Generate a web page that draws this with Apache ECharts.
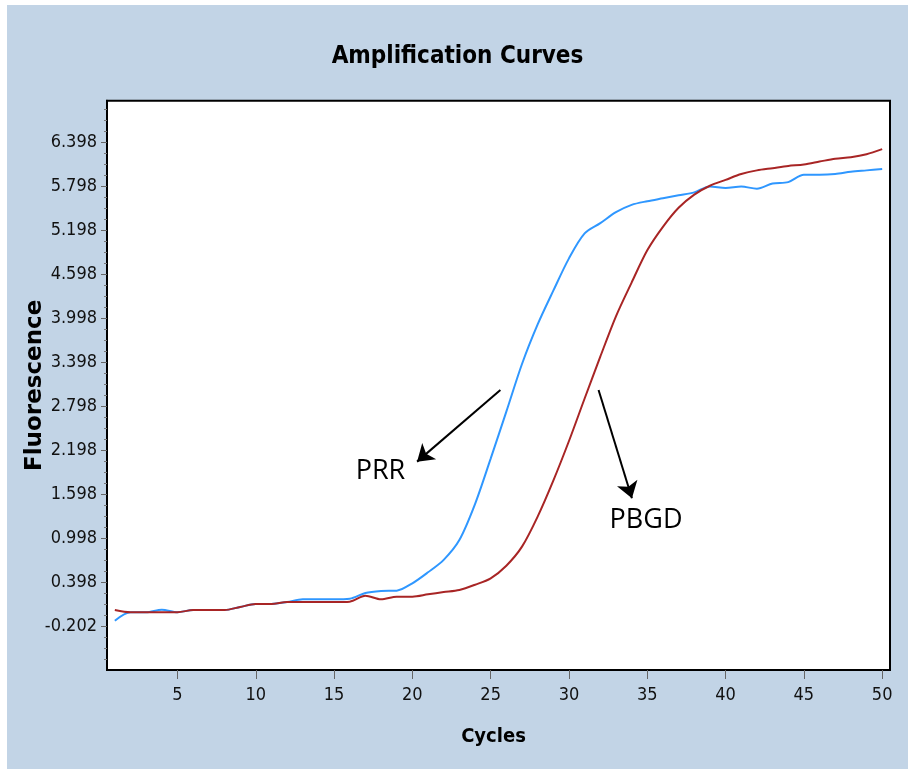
<!DOCTYPE html>
<html>
<head>
<meta charset="utf-8">
<title>Amplification Curves</title>
<script src="https://cdn.jsdelivr.net/npm/echarts@6/dist/echarts.min.js"></script>
<style>
  html, body { margin: 0; padding: 0; background: #ffffff; }
  #chart { position: absolute; left: 7px; top: 5px; width: 901px; height: 764px; }
</style>
</head>
<body>
<div id="chart"></div>
<script>
// cycles 1..50
const cycles = Array.from({ length: 50 }, (_, i) => i + 1);

// PRR (blue)
const prrValues = [
  -0.13, -0.015, -0.015, 0.02, -0.015, 0.016, 0.016, 0.016, 0.057, 0.098,
  0.098, 0.125, 0.162, 0.162, 0.162, 0.17, 0.248, 0.275, 0.28, 0.38,
  0.53, 0.70, 0.97, 1.46, 2.08, 2.72, 3.37, 3.91, 4.37, 4.81,
  5.15, 5.29, 5.44, 5.54, 5.59, 5.63, 5.67, 5.71, 5.79, 5.77,
  5.79, 5.76, 5.83, 5.85, 5.95, 5.95, 5.96, 5.99, 6.01, 6.03
];

// PBGD (red)
const pbgdValues = [
  0.016, -0.015, -0.015, -0.015, -0.015, 0.016, 0.016, 0.016, 0.057, 0.098,
  0.098, 0.125, 0.125, 0.125, 0.125, 0.13, 0.211, 0.162, 0.198, 0.198,
  0.23, 0.26, 0.289, 0.36, 0.448, 0.62, 0.88, 1.29, 1.78, 2.32,
  2.90, 3.47, 4.02, 4.48, 4.92, 5.24, 5.50, 5.68, 5.80, 5.88,
  5.96, 6.01, 6.04, 6.07, 6.09, 6.13, 6.17, 6.19, 6.23, 6.30
];

// axis tick labels
const xTicks = [5, 10, 15, 20, 25, 30, 35, 40, 45, 50];
const yTicks = [-0.202, 0.398, 0.998, 1.598, 2.198, 2.798, 3.398, 3.998, 4.598, 5.198, 5.798, 6.398];

// annotation arrows: [from, to] in (cycle, fluorescence)
const arrows = [
  [[25.62, 3.016], [20.30, 2.039]],
  [[31.89, 3.016], [34.02, 1.539]]
];
const notes = [
  { name: 'PRR', at: [17.96, 1.902] },
  { name: 'PBGD', at: [34.92, 1.244] }
];

const narrow = "'DejaVu Sans Condensed', 'DejaVu Sans', sans-serif";

const chart = echarts.init(document.getElementById('chart'));
const option = {
  animation: false,
  backgroundColor: '#c2d4e6',
  title: {
    text: 'Amplification Curves',
    left: 'center',
    top: 35,
    textStyle: { fontFamily: narrow, fontWeight: 'bold', fontSize: 24, color: '#000' }
  },
  grid: {
    left: 100,
    right: 18,
    top: 95.7,
    bottom: 99,
    outerBoundsMode: 'none',
    show: true,
    backgroundColor: '#ffffff',
    borderColor: '#000000',
    borderWidth: 2
  },
  xAxis: {
    type: 'value',
    min: 0.5,
    max: 50.5,
    name: 'Cycles',
    nameLocation: 'middle',
    nameGap: 57,
    nameMoveOverlap: false,
    nameTextStyle: { fontFamily: narrow, fontWeight: 'bold', fontSize: 20, color: '#000', padding: [0, 10, 0, 0] },
    axisLine: { show: true, onZero: false, lineStyle: { color: '#000', width: 2 } },
    axisTick: { show: true, customValues: xTicks, length: 9, lineStyle: { color: '#666' } },
    axisLabel: { customValues: xTicks, margin: 16, fontFamily: narrow, fontSize: 18, color: '#111' },
    splitLine: { show: false }
  },
  yAxis: {
    type: 'value',
    min: -0.802,
    max: 6.96,
    interval: 0.6,
    name: 'Fluorescence',
    nameLocation: 'middle',
    nameGap: 60,
    nameMoveOverlap: false,
    nameTextStyle: { fontFamily: "'DejaVu Sans', sans-serif", fontWeight: 'bold', fontSize: 23, color: '#000' },
    axisLine: { show: true, lineStyle: { color: '#000', width: 2 } },
    axisTick: { show: true, customValues: yTicks, length: 6, lineStyle: { color: '#666' } },
    minorTick: { show: true, splitNumber: 4, length: 3, lineStyle: { color: '#777' } },
    axisLabel: {
      customValues: yTicks,
      margin: 10,
      fontFamily: narrow,
      fontSize: 18,
      color: '#111',
      formatter: (v) => v.toFixed(3)
    },
    splitLine: { show: false },
    minorSplitLine: { show: false }
  },
  series: [
    {
      name: 'PBGD',
      type: 'line',
      data: cycles.map((c, i) => [c, pbgdValues[i]]),
      showSymbol: false,
      smooth: 0.3,
      lineStyle: { color: '#a82525', width: 2 },
      z: 3
    },
    {
      name: 'PRR',
      type: 'line',
      data: cycles.map((c, i) => [c, prrValues[i]]),
      showSymbol: false,
      smooth: 0.3,
      lineStyle: { color: '#2f97ff', width: 2 },
      z: 2,
      markLine: {
        silent: true,
        symbol: ['none', 'arrow'],
        symbolSize: 16,
        label: { show: false },
        lineStyle: { color: '#000', width: 2, type: 'solid' },
        data: arrows.map(([a, b]) => [{ coord: a }, { coord: b }])
      },
      markPoint: {
        silent: true,
        symbol: 'circle',
        symbolSize: 0,
        label: {
          show: true,
          position: 'inside',
          formatter: '{b}',
          fontFamily: "'Open Sans', sans-serif",
          fontSize: 27,
          color: '#000'
        },
        data: notes.map((n) => ({ name: n.name, coord: n.at }))
      }
    }
  ]
};
chart.setOption(option);
window.onresize = function () {
  chart.resize();
};
</script>
</body>
</html>
